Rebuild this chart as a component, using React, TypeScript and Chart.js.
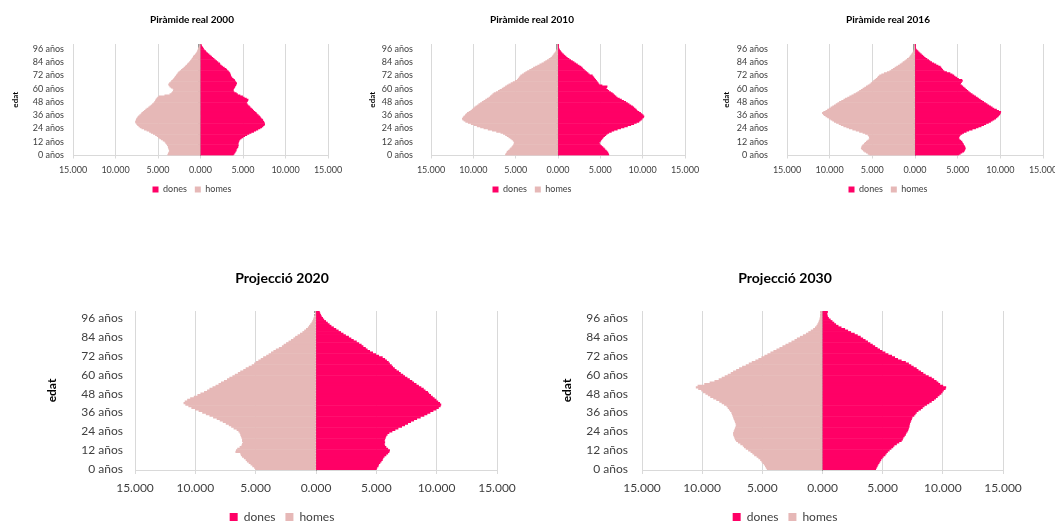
import React, { useEffect, useRef } from "react";
import { Chart, registerables } from "chart.js";

Chart.register(...registerables);

// ---------- DATA ----------
const AGE_LABELS: string[] = Array.from({ length: 101 }, (_, i) => `${i} años`);
const SERIES_LABELS = ["dones", "homes"];
const AXIS_TITLE = "edat";
const TITLES = [
  "Piràmide real 2000",
  "Piràmide real 2010",
  "Piràmide real 2016",
  "Projecció 2020",
  "Projecció 2030",
];

const DONES_2000 = [
  3850, 3950, 4050, 4100, 4200, 4200, 4300, 4400, 4400, 4450,
  4400, 4450, 4500, 4550, 4650, 4800, 5000, 5200, 5450, 5700,
  5950, 6250, 6500, 6750, 7000, 7200, 7350, 7500, 7550, 7500,
  7450, 7350, 7300, 7150, 7050, 6950, 6800, 6650, 6550, 6400,
  6250, 6150, 6000, 5850, 5750, 5600, 5500, 5400, 5450, 5550,
  5600, 5400, 5150, 4950, 4650, 4350, 4200, 3950, 3850, 3850,
  3900, 4000, 4050, 4150, 4200, 4250, 4150, 4050, 4000, 3850,
  3700, 3600, 3550, 3500, 3450, 3350, 3250, 3100, 3000, 2800,
  2600, 2450, 2300, 2250, 2050, 1900, 1750, 1600, 1450, 1300,
  1150, 1000, 850, 700, 600, 450, 350, 280, 200, 120, 80,
];
const HOMES_2000 = [
  3850, 3800, 3750, 3650, 3650, 3700, 3750, 3800, 3800, 3900,
  4000, 4100, 4200, 4400, 4600, 4800, 4950, 5100, 5300, 5550,
  5800, 6000, 6300, 6600, 6900, 7100, 7250, 7400, 7500, 7600,
  7650, 7600, 7550, 7500, 7400, 7300, 7150, 7000, 6900, 6750,
  6600, 6450, 6300, 6100, 5950, 5800, 5650, 5500, 5400, 5300,
  5250, 5150, 5050, 4900, 4200, 3600, 3400, 3300, 3200, 3150,
  3250, 3450, 3600, 3700, 3750, 3650, 3500, 3400, 3250, 3150,
  3050, 2950, 2850, 2750, 2650, 2550, 2400, 2250, 2100, 1950,
  1800, 1700, 1550, 1450, 1300, 1200, 1100, 1000, 900, 850,
  750, 600, 500, 420, 350, 300, 260, 200, 150, 100, 80,
];

const DONES_2010 = [
  6000, 5950, 5900, 5800, 5700, 5550, 5450, 5300, 5150, 5000,
  4900, 4850, 4950, 5050, 5150, 5250, 5350, 5500, 5650, 5800,
  6000, 6300, 6600, 7000, 7400, 7800, 8200, 8600, 8950, 9250,
  9550, 9700, 9850, 9950, 10100, 10150, 10050, 9900, 9750, 9550,
  9350, 9250, 9100, 8950, 8800, 8600, 8400, 8200, 8000, 7750,
  7500, 7250, 7000, 6850, 6700, 6550, 6400, 6200, 6000, 5850,
  5650, 5750, 5800, 5200, 4850, 4750, 4650, 4550, 4450, 4350,
  4250, 4150, 4050, 3700, 3550, 3400, 3250, 3100, 2950, 2850,
  2700, 2500, 2300, 2100, 1900, 1700, 1500, 1300, 1100, 950,
  800, 650, 500, 400, 300, 200, 120, 80, 50, 30, 20,
];
const HOMES_2010 = [
  6200, 6150, 6050, 6000, 5850, 5700, 5600, 5450, 5350, 5250,
  5200, 5150, 5200, 5300, 5450, 5600, 5800, 6000, 6200, 6450,
  6750, 7250, 7750, 8250, 8750, 9150, 9550, 9900, 10250, 10600,
  10900, 11100, 11250, 11300, 11200, 11100, 10950, 10850, 10700, 10500,
  10300, 10150, 10000, 9850, 9700, 9500, 9350, 9150, 8950, 8750,
  8550, 8350, 8150, 8000, 7850, 7700, 7550, 7300, 7050, 6850,
  6600, 6400, 6200, 6000, 5800, 5550, 5300, 5050, 4800, 4700,
  4600, 4500, 4400, 4200, 4000, 3800, 3600, 3350, 3100, 2900,
  2650, 2400, 2150, 1900, 1650, 1450, 1250, 1050, 850, 700,
  600, 500, 400, 300, 220, 150, 80, 60, 40, 25, 15,
];

const DONES_2016 = [
  5100, 5300, 5500, 5700, 5800, 5850, 5900, 5850, 5800, 5700,
  5650, 5550, 5500, 5350, 5200, 5100, 5150, 5200, 5300, 5500,
  5700, 6000, 6300, 6700, 7100, 7400, 7750, 8050, 8300, 8600,
  8850, 9050, 9250, 9450, 9600, 9750, 9850, 9950, 10000, 10050,
  9800, 9550, 9250, 9050, 8850, 8650, 8450, 8250, 8050, 7850,
  7650, 7450, 7300, 7100, 6900, 6700, 6500, 6350, 6200, 6050,
  5900, 5750, 5600, 5450, 5300, 5350, 5450, 5550, 5500, 5100,
  4900, 4700, 4550, 4350, 4100, 3700, 3400, 3250, 3150, 3050,
  2950, 2700, 2450, 2200, 1950, 1750, 1600, 1400, 1200, 1050,
  900, 750, 600, 480, 350, 220, 100, 70, 50, 30, 20,
];
const HOMES_2016 = [
  5300, 5500, 5700, 5900, 6050, 6200, 6300, 6250, 6200, 6100,
  5950, 5850, 5700, 5550, 5400, 5300, 5350, 5400, 5500, 5800,
  6100, 6500, 6900, 7300, 7700, 8000, 8350, 8650, 8900, 9200,
  9450, 9650, 9850, 10050, 10250, 10450, 10650, 10750, 10850, 10700,
  10450, 10250, 10050, 9850, 9650, 9450, 9250, 9050, 8850, 8600,
  8350, 8150, 7900, 7650, 7400, 7150, 6900, 6700, 6500, 6300,
  6100, 5900, 5700, 5500, 5300, 5150, 5000, 4850, 4700, 4550,
  4400, 4300, 4150, 3900, 3600, 3250, 2950, 2750, 2550, 2350,
  2150, 1950, 1750, 1550, 1400, 1200, 1050, 900, 700, 600,
  500, 400, 300, 220, 160, 110, 80, 60, 40, 25, 15,
];

const DONES_2020 = [
  5000, 5050, 5150, 5200, 5300, 5400, 5500, 5550, 5650, 5800,
  5950, 6050, 6100, 5950, 5800, 5700, 5650, 5700, 5650, 5700,
  5750, 5800, 5900, 6050, 6300, 6550, 6800, 7100, 7350, 7600,
  7850, 8100, 8350, 8650, 8950, 9200, 9450, 9700, 9950, 10150,
  10300, 10350, 10250, 10100, 9950, 9800, 9650, 9500, 9350, 9250,
  9050, 8900, 8700, 8500, 8300, 8100, 7950, 7750, 7550, 7350,
  7200, 7000, 6850, 6650, 6500, 6350, 6250, 6100, 6000, 5850,
  5700, 5500, 5200, 4950, 4700, 4450, 4250, 4100, 3900, 3750,
  3550, 3350, 3100, 2900, 2700, 2450, 2250, 2050, 1850, 1650,
  1450, 1250, 1100, 950, 800, 650, 550, 450, 380, 320, 280,
];
const HOMES_2020 = [
  5000, 5100, 5250, 5400, 5550, 5700, 5800, 5950, 6100, 6200,
  6250, 6650, 6600, 6500, 6300, 6150, 6100, 6050, 6100, 6100,
  6150, 6200, 6250, 6300, 6400, 6550, 6800, 7000, 7200, 7450,
  7700, 7950, 8200, 8500, 8800, 9100, 9400, 9700, 10000, 10300,
  10550, 10800, 10950, 10850, 10650, 10400, 10100, 9800, 9550, 9250,
  9000, 8800, 8550, 8300, 8050, 7850, 7600, 7350, 7150, 6900,
  6700, 6450, 6250, 6000, 5800, 5550, 5300, 5100, 4950, 4750,
  4550, 4350, 4100, 3900, 3700, 3500, 3300, 3050, 2800, 2650,
  2450, 2250, 2050, 1850, 1700, 1500, 1300, 1100, 950, 800,
  650, 550, 450, 350, 280, 220, 170, 120, 80, 60, 40,
];

const DONES_2030 = [
  4420, 4480, 4550, 4620, 4700, 4780, 4850, 4950, 5050, 5200,
  5300, 5400, 5550, 5700, 5850, 5950, 6150, 6350, 6550, 6650,
  6700, 6800, 6900, 6950, 7050, 7100, 7150, 7200, 7200, 7250,
  7300, 7350, 7400, 7450, 7600, 7700, 7800, 7950, 8150, 8300,
  8450, 8650, 8850, 9050, 9250, 9400, 9550, 9700, 9850, 9950,
  10050, 10200, 10250, 10000, 9750, 9600, 9450, 9250, 9050, 8800,
  8550, 8350, 8150, 7950, 7800, 7550, 7350, 7150, 6900, 6550,
  6250, 6000, 5750, 5450, 5200, 4950, 4750, 4550, 4350, 4150,
  3950, 3750, 3550, 3350, 3150, 2900, 2650, 2350, 2100, 1850,
  1550, 1300, 1100, 950, 800, 650, 500, 420, 380, 370, 420,
];
const HOMES_2030 = [
  4600, 4680, 4750, 4850, 4950, 5050, 5150, 5300, 5450, 5650,
  5800, 5950, 6150, 6350, 6500, 6600, 6800, 7000, 7150, 7250,
  7300, 7350, 7400, 7400, 7350, 7300, 7250, 7200, 7150, 7200,
  7250, 7300, 7350, 7400, 7450, 7500, 7550, 7650, 7750, 7850,
  7950, 8150, 8350, 8550, 8800, 9050, 9300, 9500, 9700, 9900,
  10050, 10300, 10500, 10350, 9800, 9350, 8950, 8600, 8350, 8100,
  7850, 7600, 7400, 7150, 6900, 6650, 6350, 6100, 5850, 5550,
  5300, 5050, 4800, 4550, 4300, 4050, 3800, 3550, 3300, 3050,
  2800, 2550, 2300, 2100, 1850, 1600, 1350, 1150, 950, 750,
  600, 480, 400, 330, 280, 230, 200, 180, 170, 160, 180,
];

const X_MIN = -15000;
const X_MAX = 15000;
const X_STEP = 5000;
const LABEL_EVERY = 12;

// ---------- STYLE / LAYOUT ----------
const FONT = "Lato, 'Liberation Sans', sans-serif";
const PINK = "#FF0066";
const ROSE = "#E6B8B7";
const GRID = "#D9D9D9";
const AXIS = "#9A9A9A";
const TEXT = "#404040";

type Spec = {
  title: string;
  dones: number[];
  homes: number[];
  left: number;
  top: number;
  width: number;
  height: number;
  yAxisW: number;
  rightW: number;
  yTickPad: number;
  yTitlePad: number;
  yTitleSize: number;
  tickSize: number;
  titleSize: number;
  titlePadTop: number;
  titlePadBottom: number;
  xAxisH: number;
  xTickPad: number;
  xTickLen: number;
  legendSize: number;
  legendBox: number;
  legendPad: number;
};

const SMALL = {
  top: 0,
  height: 204,
  yTitleSize: 8,
  tickSize: 9,
  titleSize: 10,
  titlePadTop: 14,
  titlePadBottom: 18,
  xAxisH: 21.5,
  xTickPad: 6.1,
  xTickLen: 3,
  legendSize: 9,
  legendBox: 6,
  legendPad: 8,
};
const LARGE = {
  top: 255,
  height: 278,
  yTitleSize: 12,
  tickSize: 12,
  titleSize: 14,
  titlePadTop: 14.6,
  titlePadBottom: 24.6,
  xAxisH: 31,
  xTickPad: 6.8,
  xTickLen: 4,
  legendSize: 12,
  legendBox: 8,
  legendPad: 10,
};

const SPECS: Spec[] = [
  { ...SMALL, title: TITLES[0], dones: DONES_2000, homes: HOMES_2000, left: 4, width: 376, yAxisW: 69, rightW: 52, yTickPad: 9, yTitlePad: 6.2 },
  { ...SMALL, title: TITLES[1], dones: DONES_2010, homes: HOMES_2010, left: 358, width: 348, yAxisW: 73, rightW: 21, yTickPad: 18, yTitlePad: 9.2 },
  { ...SMALL, title: TITLES[2], dones: DONES_2016, homes: HOMES_2016, left: 712, width: 352, yAxisW: 75, rightW: 21, yTickPad: 19, yTitlePad: 9.2 },
  { ...LARGE, title: TITLES[3], dones: DONES_2020, homes: HOMES_2020, left: 40, width: 484, yAxisW: 95, rightW: 27, yTickPad: 12, yTitlePad: 4.8 },
  { ...LARGE, title: TITLES[4], dones: DONES_2030, homes: HOMES_2030, left: 540, width: 490, yAxisW: 102, rightW: 27, yTickPad: 14, yTitlePad: 19.8 },
];

function buildConfig(s: Spec): any {
  return {
    type: "bar",
    data: {
      labels: AGE_LABELS,
      datasets: [
        {
          label: SERIES_LABELS[0],
          data: s.dones,
          backgroundColor: PINK,
          borderWidth: 0,
          barPercentage: 1,
          categoryPercentage: 1,
          xAxisID: "x",
          yAxisID: "y",
        },
        {
          label: SERIES_LABELS[1],
          data: s.homes.map((v) => -v),
          backgroundColor: ROSE,
          borderWidth: 0,
          barPercentage: 1,
          categoryPercentage: 1,
          xAxisID: "x",
          yAxisID: "y",
        },
      ],
    },
    options: {
      indexAxis: "y",
      responsive: false,
      animation: false,
      events: [],
      layout: { padding: 0 },
      plugins: {
        title: {
          display: true,
          text: s.title,
          color: "#000000",
          font: { family: FONT, size: s.titleSize, weight: "bold" },
          padding: { top: s.titlePadTop, bottom: s.titlePadBottom },
        },
        legend: {
          display: true,
          position: "bottom",
          labels: {
            boxWidth: s.legendBox,
            boxHeight: s.legendBox,
            padding: s.legendPad,
            color: TEXT,
            font: { family: FONT, size: s.legendSize },
          },
        },
        tooltip: { enabled: false },
      },
      scales: {
        x: {
          type: "linear",
          position: "bottom",
          stacked: true,
          min: X_MIN,
          max: X_MAX,
          ticks: {
            stepSize: X_STEP,
            padding: s.xTickPad,
            color: TEXT,
            font: { family: FONT, size: s.tickSize },
            callback: (v: number) => (Math.abs(v) / 1000).toFixed(3),
          },
          grid: { color: GRID, lineWidth: 1, drawTicks: true, tickLength: s.xTickLen },
          border: { display: true, color: GRID, width: 1 },
          afterFit: (sc: any) => {
            sc.height = s.xAxisH;
          },
        },
        y: {
          type: "category",
          position: "left",
          stacked: true,
          reverse: true,
          offset: true,
          grid: { display: false, drawTicks: false },
          border: { display: false },
          ticks: {
            autoSkip: false,
            padding: s.yTickPad,
            color: TEXT,
            font: { family: FONT, size: s.tickSize },
            callback: (v: number) => (v % LABEL_EVERY === 0 ? AGE_LABELS[v] : ""),
          },
          title: {
            display: true,
            text: AXIS_TITLE,
            color: "#000000",
            font: { family: FONT, size: s.yTitleSize, weight: "bold" },
            padding: { top: s.yTitlePad, bottom: 0 },
          },
          afterFit: (sc: any) => {
            sc.width = s.yAxisW;
          },
        },
        yc: {
          type: "category",
          axis: "y",
          position: { x: 0 },
          reverse: true,
          offset: true,
          z: 1,
          ticks: { display: false },
          grid: { drawOnChartArea: false, drawTicks: true, tickLength: 2, color: AXIS },
          border: { display: true, color: AXIS, width: 1 },
        },
        pad: {
          type: "linear",
          axis: "y",
          position: "right",
          display: true,
          grid: { display: false, drawTicks: false },
          border: { display: false },
          ticks: { display: false },
          afterFit: (sc: any) => {
            sc.width = s.rightW;
          },
        },
      },
    },
  };
}

function Pyramid({ spec }: { spec: Spec }) {
  const ref = useRef<HTMLCanvasElement | null>(null);
  useEffect(() => {
    if (!ref.current) return;
    const chart = new Chart(ref.current, buildConfig(spec));
    return () => chart.destroy();
  }, [spec]);
  return (
    <canvas
      ref={ref}
      width={spec.width}
      height={spec.height}
      style={{
        position: "absolute",
        left: spec.left,
        top: spec.top,
        width: spec.width,
        height: spec.height,
      }}
    />
  );
}

export default function App() {
  return (
    <div
      style={{
        position: "absolute",
        left: 0,
        top: 0,
        width: 1055,
        height: 525,
        overflow: "hidden",
        background: "#ffffff",
      }}
    >
      {SPECS.map((s) => (
        <Pyramid key={s.title} spec={s} />
      ))}
    </div>
  );
}
